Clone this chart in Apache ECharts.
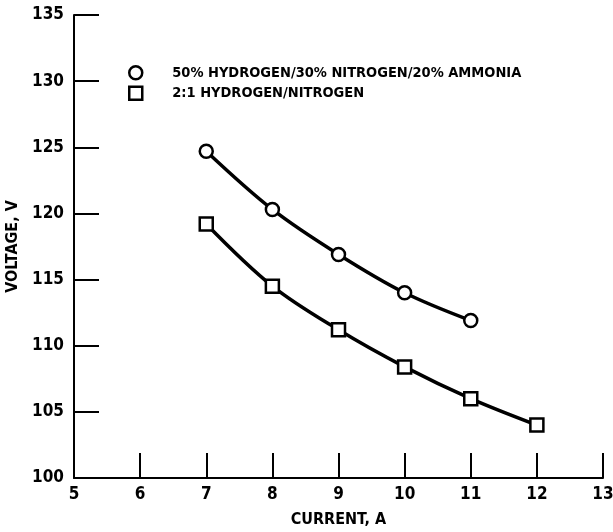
<!DOCTYPE html>
<html>
<head>
<meta charset="utf-8">
<script src="https://cdn.jsdelivr.net/npm/echarts@6/dist/echarts.min.js"></script>
<style>
html,body{margin:0;padding:0;background:#fff;}
#chart{width:613px;height:532px;}
</style>
</head>
<body>
<div id="chart"></div>
<script>
var seriesNames = ['50% HYDROGEN/30% NITROGEN/20% AMMONIA', '2:1 HYDROGEN/NITROGEN'];
var currentA = [7, 8, 9, 10, 11];
var voltageA = [124.7, 120.3, 116.9, 114.0, 111.9];
var currentB = [7, 8, 9, 10, 11, 12];
var voltageB = [119.2, 114.5, 111.2, 108.4, 106.0, 104.0];
var xTicks = [5, 6, 7, 8, 9, 10, 11, 12, 13];
var yTicks = [100, 105, 110, 115, 120, 125, 130, 135];

function pairs(xs, ys) { return xs.map(function (x, i) { return [x, ys[i]]; }); }

var FONT = '"Liberation Sans Narrow", "DejaVu Sans Condensed", sans-serif';
var chart = echarts.init(document.getElementById('chart'), null, {renderer: 'canvas'});
var markerStyle = {color: '#fff', borderColor: '#000', borderWidth: 2.5};
chart.setOption({
  animation: false,
  backgroundColor: '#fff',
  grid: {left: 74, right: 10, top: 15, bottom: 54, containLabel: false, outerBoundsMode: 'none'},
  legend: {
    orient: 'vertical',
    left: 123,
    top: 60,
    itemWidth: 13,
    itemHeight: 13,
    itemGap: 5,
    textStyle: {fontFamily: FONT, fontWeight: 'bold', fontSize: 14.5, color: '#000', padding: [0, 0, 0, 25]},
    data: [
      {name: seriesNames[0], icon: 'circle', itemStyle: markerStyle},
      {name: seriesNames[1], icon: 'rect', itemStyle: markerStyle}
    ]
  },
  xAxis: {
    type: 'value', min: xTicks[0], max: xTicks[xTicks.length - 1], interval: 1,
    name: 'CURRENT, A', nameLocation: 'middle', nameGap: 34,
    nameTextStyle: {fontFamily: FONT, fontWeight: 'bold', fontSize: 16, color: '#000'},
    axisLine: {show: true, onZero: false, lineStyle: {color: '#000', width: 2}},
    axisTick: {show: true, inside: true, length: 25, lineStyle: {color: '#000', width: 2}},
    axisLabel: {fontFamily: FONT, fontWeight: 'bold', fontSize: 17, color: '#000', margin: 8},
    splitLine: {show: false}
  },
  yAxis: {
    type: 'value', min: yTicks[0], max: yTicks[yTicks.length - 1], interval: 5,
    name: 'VOLTAGE, V', nameLocation: 'middle', nameGap: 50,
    nameTextStyle: {fontFamily: FONT, fontWeight: 'bold', fontSize: 16, color: '#000'},
    axisLine: {show: true, onZero: false, lineStyle: {color: '#000', width: 2}},
    axisTick: {show: true, inside: true, length: 25, lineStyle: {color: '#000', width: 2}},
    axisLabel: {fontFamily: FONT, fontWeight: 'bold', fontSize: 17, color: '#000', margin: 10},
    splitLine: {show: false}
  },
  series: [
    {
      name: seriesNames[0], type: 'line', data: pairs(currentA, voltageA),
      smooth: 0.35, symbol: 'circle', symbolSize: 13,
      lineStyle: {color: '#000', width: 3.5},
      itemStyle: markerStyle
    },
    {
      name: seriesNames[1], type: 'line', data: pairs(currentB, voltageB),
      smooth: 0.35, symbol: 'rect', symbolSize: 13,
      lineStyle: {color: '#000', width: 3.5},
      itemStyle: markerStyle
    }
  ]
});
</script>
</body>
</html>
